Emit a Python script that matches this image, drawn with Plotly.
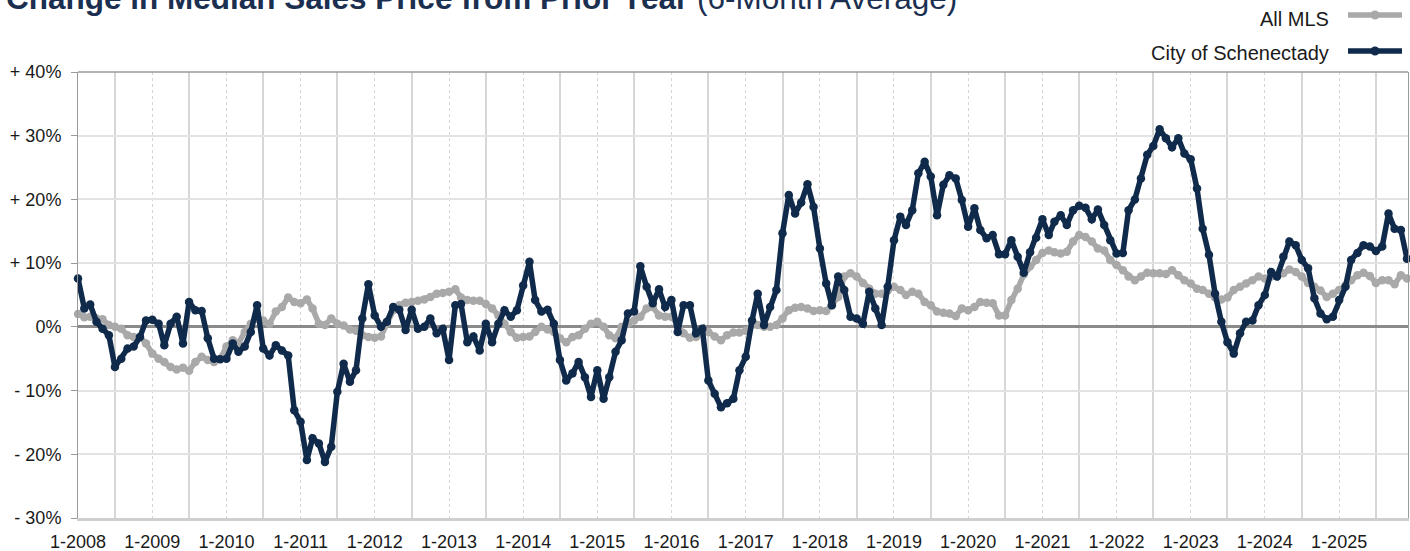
import pandas as pd
import plotly.graph_objects as go

# ---------------- data ----------------
start_month = "2008-01-01"
n_months = 216
months = pd.date_range(start_month, periods=n_months, freq="MS")

years = list(range(2008, 2026))
year_ticks = [pd.Timestamp(f"{y}-01-01") for y in years]
year_labels = [f"1-{y}" for y in years]
mid_year = [pd.Timestamp(f"{y}-07-01") for y in years]

y_ticks = [-30, -20, -10, 0, 10, 20, 30, 40]
y_labels = ["- 30%", "- 20%", "- 10%", "0%", "+ 10%", "+ 20%", "+ 30%", "+ 40%"]

series_names = ["All MLS", "City of Schenectady"]

all_mls = [
    2.0, 1.5, 1.6, 1.3, 1.2, 0.3, 0.0, -0.3, -1.3, -1.6, -1.6, -2.6,
    -4.2, -5.0, -5.5, -6.3, -6.7, -6.4, -6.9, -5.5, -4.7, -5.2, -5.5, -5.0,
    -3.1, -2.1, -2.6, -0.8, 0.5, 1.3, 1.0, 0.5, 2.4, 3.1, 4.6, 3.9,
    3.7, 4.3, 2.9, 0.5, 0.3, 1.3, 0.5, 0.2, -0.4, -0.6, -1.3, -1.6,
    -1.7, -1.5, 0.5, 2.6, 3.4, 3.8, 3.9, 4.1, 4.3, 4.7, 5.2, 5.3,
    5.5, 5.9, 4.6, 4.2, 4.1, 4.1, 3.6, 2.9, 1.8, 0.5, -0.8, -1.7,
    -1.6, -1.5, -0.8, 0.0, -0.4, -0.8, -1.8, -2.4, -1.6, -1.3, -0.3, 0.5,
    0.8, 0.0, -1.3, -1.8, 0.0, 0.5, 1.0, 1.6, 2.9, 3.1, 1.8, 1.6,
    1.6, 0.3, -1.0, -1.7, -1.6, -0.8, -0.8, -1.5, -2.1, -1.3, -0.9, -0.9,
    -0.6, 0.3, 0.3, 0.0, 0.0, 0.3, 1.3, 2.6, 3.0, 3.1, 2.9, 2.5,
    2.6, 2.5, 3.4, 4.7, 7.9, 8.4, 7.9, 6.9, 6.0, 5.2, 5.2, 5.7,
    6.3, 5.8, 5.0, 5.5, 5.2, 3.9, 3.4, 2.4, 2.2, 2.1, 1.7, 2.9,
    2.6, 3.1, 3.9, 3.8, 3.7, 1.8, 1.8, 4.2, 6.0, 8.2, 9.5, 10.5,
    11.6, 12.0, 11.7, 11.5, 11.8, 13.4, 14.4, 14.1, 13.4, 12.3, 12.0, 10.5,
    9.7, 8.9, 7.9, 7.3, 7.9, 8.5, 8.4, 8.4, 8.3, 8.9, 8.1, 7.3,
    6.8, 6.0, 5.8, 5.2, 4.6, 4.3, 4.6, 5.8, 6.3, 6.8, 7.3, 7.9,
    7.6, 7.9, 8.1, 8.4, 9.0, 8.6, 7.9, 6.9, 6.3, 5.7, 4.7, 5.2,
    5.8, 6.5, 7.3, 8.1, 8.5, 8.0, 6.9, 7.3, 7.3, 6.7, 8.1, 7.6,
]

city = [
    7.6, 2.9, 3.5, 0.8, -0.3, -1.3, -6.3, -5.0, -3.4, -3.1, -1.6, 1.0,
    1.1, 0.5, -2.9, 0.5, 1.6, -2.6, 3.9, 2.6, 2.5, -1.8, -5.0, -5.1,
    -5.0, -2.6, -3.9, -3.1, -0.8, 3.4, -3.4, -4.5, -2.9, -3.7, -4.5, -13.1,
    -14.9, -20.9, -17.5, -18.3, -21.2, -18.8, -10.2, -5.8, -8.6, -6.8, 1.3, 6.7,
    1.8, 0.0, 0.8, 3.1, 2.7, -0.5, 2.7, -0.3, 0.0, 1.3, -1.0, -0.3,
    -5.2, 3.4, 3.6, -2.4, -1.5, -3.7, 0.5, -2.4, 0.5, 2.6, 1.6, 2.6,
    6.5, 10.2, 4.2, 2.4, 2.7, 0.5, -5.2, -8.4, -7.3, -5.5, -7.9, -11.0,
    -6.8, -11.3, -7.9, -3.9, -2.1, 2.1, 2.4, 9.5, 6.3, 3.7, 5.9, 3.1,
    4.2, -0.8, 3.4, 3.4, -1.0, -0.3, -8.4, -10.5, -12.6, -12.0, -11.3, -6.8,
    -4.7, 1.0, 5.2, 0.3, 3.1, 5.8, 14.7, 20.7, 17.8, 19.5, 22.4, 18.8,
    12.3, 6.8, 3.4, 7.9, 5.8, 1.6, 1.3, 0.5, 5.5, 2.9, 0.3, 6.3,
    13.6, 17.3, 16.0, 18.3, 24.1, 25.9, 23.6, 17.5, 22.3, 23.8, 23.3, 19.9,
    15.7, 18.6, 15.2, 13.9, 14.4, 11.4, 11.4, 13.6, 11.0, 8.5, 11.7, 14.0,
    16.9, 14.4, 16.5, 17.5, 16.0, 18.3, 19.0, 18.7, 16.9, 18.4, 16.0, 13.6,
    11.5, 11.6, 18.3, 20.0, 23.3, 27.0, 28.4, 31.0, 29.6, 28.2, 29.6, 27.2,
    26.3, 21.7, 15.4, 11.3, 5.2, 0.8, -2.4, -4.2, -1.0, 0.8, 1.0, 3.4,
    5.0, 8.6, 7.9, 11.0, 13.4, 12.8, 10.5, 9.2, 4.5, 2.1, 1.2, 1.6,
    4.2, 6.3, 10.5, 11.6, 12.8, 12.6, 11.9, 12.6, 17.8, 15.4, 15.2, 10.7,
]

# ---------------- style ----------------
NAVY = "#0f2a4a"
GRAY = "#a9a9a9"
TITLE_NAVY = "#1b2f50"
FONT = "Liberation Sans, Arial, Helvetica, sans-serif"

W, H = 1410, 551
L, R, T, B = 78, 2, 72, 33
PW, PH = W - L - R, H - T - B


def px_x(px):
    return (px - L) / PW


def px_y(py):
    return (H - B - py) / PH


fig = go.Figure()
for name, vals, color in [(series_names[0], all_mls, GRAY), (series_names[1], city, NAVY)]:
    fig.add_trace(go.Scatter(
        x=months, y=vals, name=name, mode="lines+markers",
        line=dict(color=color, width=5.5),
        marker=dict(color=color, size=8.5),
        cliponaxis=False, showlegend=False,
    ))

fig.update_layout(
    width=W, height=H,
    margin=dict(l=L, r=R, t=T, b=B, pad=0, autoexpand=False),
    paper_bgcolor="white", plot_bgcolor="white",
    font=dict(family=FONT, size=18, color="#1a1a1a"),
    xaxis=dict(
        type="date", automargin=False,
        range=["2008-01-01", "2025-12-06"],
        tickmode="array", tickvals=year_ticks, ticktext=year_labels,
        showgrid=True, gridcolor="#d4d4d4", gridwidth=1, griddash="dot",
        minor=dict(tickmode="array", tickvals=mid_year, showgrid=True,
                   gridcolor="#d6d6d6", gridwidth=1.5, griddash="solid"),
        showline=True, linecolor="#cfcfcf", linewidth=2.5,
        ticks="", ticklabelstandoff=6,
        tickfont=dict(family=FONT, size=18, color="#1a1a1a"),
        zeroline=False,
    ),
    yaxis=dict(
        automargin=False,
        range=[-30, 40],
        tickmode="array", tickvals=y_ticks, ticktext=y_labels,
        showgrid=True, gridcolor="#e3e3e3", gridwidth=1.5,
        zeroline=True, zerolinecolor="#8a8a8a", zerolinewidth=2.5,
        showline=True, linecolor="#9a9a9a", linewidth=1, mirror=True,
        ticks="outside", ticklen=6, tickcolor="#9a9a9a", tickwidth=1,
        ticklabelstandoff=6,
        tickfont=dict(family=FONT, size=18, color="#1a1a1a"),
    ),
)

# top border
fig.add_shape(type="line", xref="paper", yref="paper", x0=0, x1=1, y0=1, y1=1,
              line=dict(color="#9a9a9a", width=1.5))

# title (mostly above the visible page area, as in the reference)
fig.add_annotation(
    xref="paper", yref="paper", x=px_x(4), y=px_y(-2),
    xanchor="left", yanchor="middle", showarrow=False,
    text="<b>Change in Median Sales Price from Prior Year</b> (6-Month Average)",
    font=dict(family=FONT, size=31.5, color=TITLE_NAVY),
)

# custom legend: text on the left, line sample on the right
legend_rows = [(series_names[0], GRAY, 15, 19), (series_names[1], NAVY, 51, 53)]
for name, color, line_py, text_py in legend_rows:
    fig.add_annotation(
        xref="paper", yref="paper", x=px_x(1331), y=px_y(text_py),
        xanchor="right", yanchor="middle", showarrow=False,
        text=name, font=dict(family=FONT, size=20, color="#1a1a1a"),
    )
    fig.add_shape(type="line", xref="paper", yref="paper",
                  x0=px_x(1348), x1=px_x(1402), y0=px_y(line_py), y1=px_y(line_py),
                  line=dict(color=color, width=5.5))
    fig.add_shape(type="circle", xref="paper", yref="paper",
                  xsizemode="pixel", ysizemode="pixel",
                  xanchor=px_x(1375), yanchor=px_y(line_py),
                  x0=-4.5, x1=4.5, y0=-4.5, y1=4.5,
                  fillcolor=color, line=dict(color=color, width=0))

fig.write_html(
    "out.html",
    config={"displayModeBar": False},
    post_script="document.body.style.margin='0px';document.body.style.overflow='hidden';",
)
